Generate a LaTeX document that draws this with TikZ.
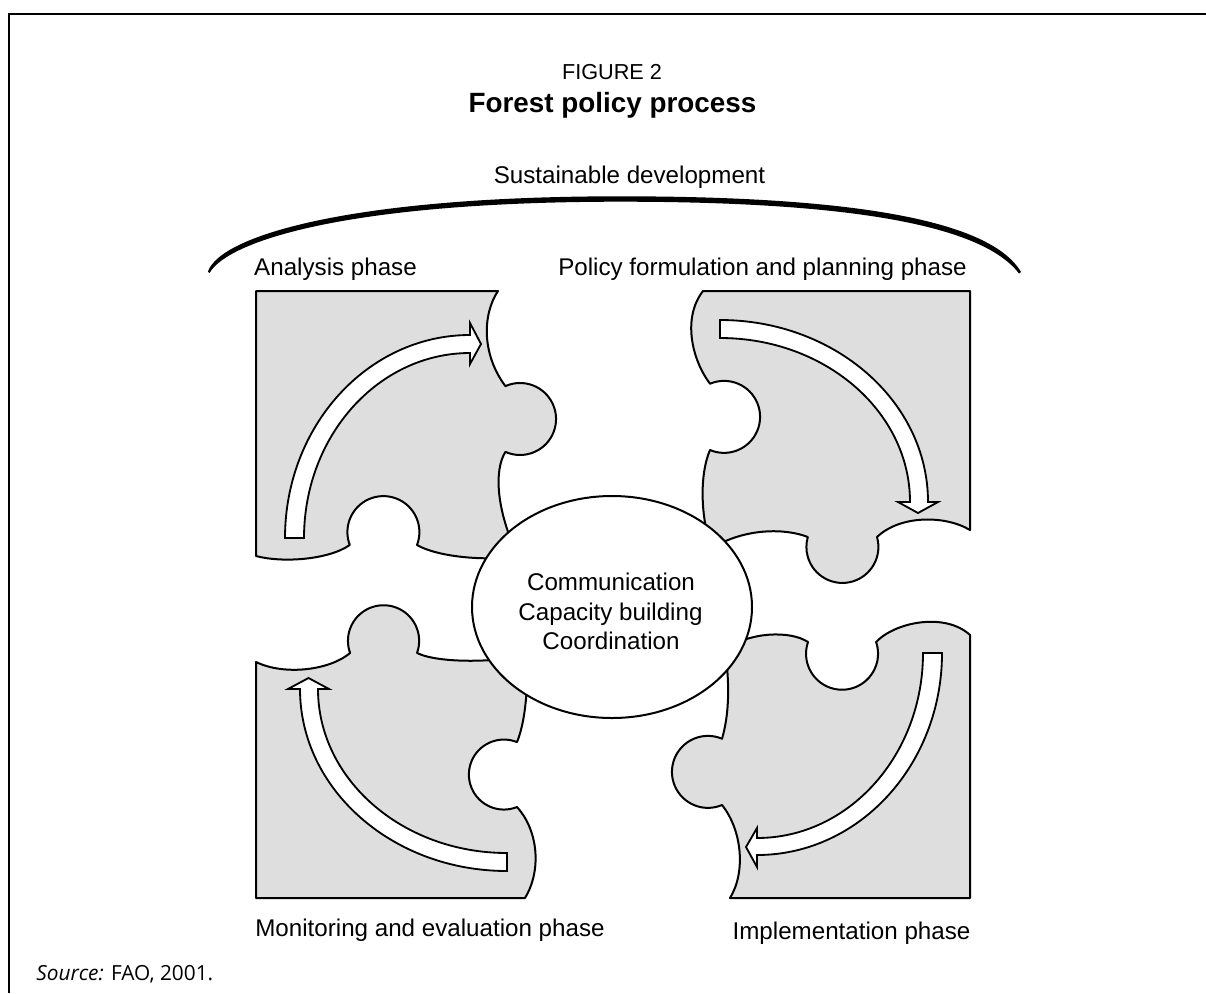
\documentclass[tikz,border=0pt]{standalone}
\usepackage{fontspec}
\setmainfont{Liberation Sans}
\newfontfamily\srcfont{Open Sans}
\usetikzlibrary{shapes.geometric}
\tikzset{
  piece/.style={fill=black!13, draw=black, line width=1.2pt, line join=round},
  arrowshape/.style={fill=white, draw=black, line width=1.1pt, line join=miter},
  lbl/.style={anchor=base, inner sep=0pt, font=\fontsize{14.5}{17}\selectfont},
  frameline/.style={line width=1.3pt},
  hubstyle/.style={draw, ellipse, fill=white, line width=1.2pt, inner sep=0pt,
    minimum width=168pt, minimum height=133.2pt},
}
\begin{document}
\begin{tikzpicture}[x=0.6pt,y=-0.6pt]
\useasboundingbox (0,0) rectangle (1206,993);
\fill[white] (0,0) rectangle (1206,993);
% frame
\coordinate (fTL) at (9,14);
\coordinate (fTR) at (1206,14);
\coordinate (fBL) at (9,993);
\draw[frameline] (fTR) -- (fTL) -- (fBL);

% titles
\node[lbl, font=\fontsize{13}{15}\selectfont] (fig) at (612,79) {FIGURE 2};
\node[lbl, font=\fontsize{16.7}{20}\selectfont\bfseries] (title) at (612.5,112) {Forest policy process};
\node[lbl] (sust) at (629.5,183) {Sustainable development};

% brace arc (tapered)
\fill[black] (208,271.5) .. controls (220,236) and (350,196.3) .. (620,196.3)
  .. controls (850,196.3) and (990,219.5) .. (1021,272)
  -- (1019,273.5) .. controls (982,225) and (850,201.7) .. (620,201.7)
  .. controls (350,201.7) and (228,240.5) .. (209.5,273) -- cycle;

% phase labels
\node[lbl] (lanalysis) at (335.5,275) {Analysis phase};
\node[lbl] (lpolicy) at (762.5,275) {Policy formulation and planning phase};
\node[lbl] (lmonitor) at (430,936) {Monitoring and evaluation phase};
\node[lbl] (limpl) at (851.5,939) {Implementation phase};

% top-left piece
\path[piece] (256,291) -- (498,291)
  .. controls (482,315) and (482,355) .. (505.4,386.1)
  arc[start angle=-114, end angle=114, radius=36]
  .. controls (494,470) and (496,510) .. (518,556)
  .. controls (490,561) and (440,558) .. (417,545)
  arc[start angle=21, end angle=-201, radius=36]
  .. controls (328,560) and (282,563) .. (256,556) -- cycle;

% top-right piece
\path[piece] (703,291) -- (970,291) -- (970,530)
  .. controls (945,515) and (900,515) .. (877,537)
  arc[start angle=-16, end angle=196, radius=36]
  .. controls (785,528) and (745,528) .. (712,548)
  .. controls (702,525) and (698,478) .. (710,450)
  arc[start angle=113, end angle=-113, radius=36]
  .. controls (692,360) and (682,318) .. (703,291) -- cycle;

% bottom-right piece
\path[piece] (970,635) -- (970,898) -- (730,898)
  .. controls (746,872) and (742,830) .. (722,805)
  arc[start angle=67, end angle=293, radius=36]
  .. controls (729,715) and (730,685) .. (725,650)
  .. controls (748,632) and (790,630) .. (808,642)
  arc[start angle=199, end angle=-19, radius=36]
  .. controls (895,622) and (945,612) .. (970,635) -- cycle;

% bottom-left piece
\path[piece] (256,662) -- (256,898) -- (525,898)
  .. controls (542,870) and (538,830) .. (517,807)
  arc[start angle=68, end angle=292, radius=35]
  .. controls (526,720) and (528,685) .. (527,655)
  .. controls (500,662) and (440,664) .. (417,653)
  arc[start angle=20, end angle=-200, radius=35.6]
  .. controls (330,670) and (285,676) .. (256,662) -- cycle;

% arrows
\path[arrowshape] (285,538) arc[start angle=180, end angle=270, x radius=185, y radius=203]
  -- (470,323) -- (481,344) -- (470,364) -- (470,353)
  arc[start angle=270, end angle=180, x radius=166, y radius=185] -- cycle;
\path[arrowshape] (720,320) arc[start angle=270, end angle=360, x radius=208, y radius=182]
  -- (938,502) -- (918,513) -- (898,502) -- (910,502)
  arc[start angle=0, end angle=-90, x radius=190, y radius=164] -- cycle;
\path[arrowshape] (942,653) arc[start angle=0, end angle=90, x radius=185, y radius=202]
  -- (757,867) -- (746,847) -- (757,828) -- (757,838)
  arc[start angle=90, end angle=0, x radius=166, y radius=185] -- cycle;
\path[arrowshape] (507,871) arc[start angle=90, end angle=180, x radius=207, y radius=182]
  -- (288,689) -- (308.5,678) -- (329,689) -- (318,689)
  arc[start angle=180, end angle=90, x radius=189, y radius=164] -- cycle;

% hub
\node[hubstyle] (hub) at (612,607) {};
\node[lbl] (hub1) at (611,590) {Communication};
\node[lbl] (hub2) at (610.5,620) {Capacity building};
\node[lbl] (hub3) at (611,649) {Coordination};

% source
\node[anchor=base west, inner sep=0pt, font=\srcfont\fontsize{12.5}{15}\selectfont] (src) at (36,980) {\textit{Source:} FAO, 2001.};
\end{tikzpicture}
\end{document}
